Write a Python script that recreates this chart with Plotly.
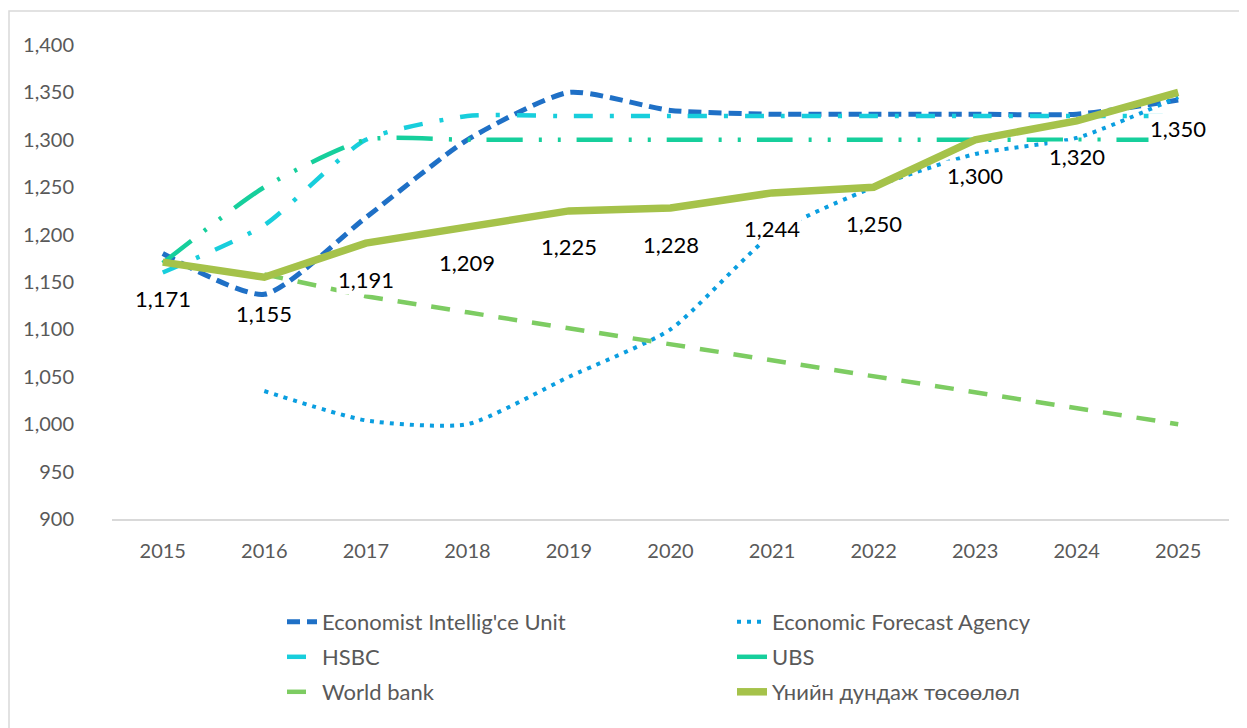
import plotly.graph_objects as go

years = [2015, 2016, 2017, 2018, 2019, 2020, 2021, 2022, 2023, 2024, 2025]
eiu = [1180, 1137, 1218, 1300, 1350, 1331, 1327, 1327, 1327, 1327, 1342]
efa = [None, 1035, 1004, 1000, 1050, 1100, 1200, 1250, 1285, 1302, 1345]
hsbc = [1160, 1210, 1300, 1325, 1325, 1325, 1325, 1325, 1325, 1325, 1325]
ubs = [1170, 1250, 1300, 1300, 1300, 1300, 1300, 1300, 1300, 1300, 1300]
wb = [None, 1158, 1135, 1118, 1101, 1084, 1068, 1051, 1034, 1017, 1000]
avg = [1171, 1155, 1191, 1209, 1225, 1228, 1244, 1250, 1300, 1320, 1350]

names = ["Economist Intellig'ce Unit", "Economic Forecast Agency", "HSBC", "UBS",
         "World bank", "Үнийн дундаж төсөөлөл"]

# page has an 8px body margin; figure coordinates = page coordinates - 8
OFF = 8
W, H = 1239, 720
ml, mr, mt, mb = 104, 18, 37, 209
ph = H - mt - mb
pw = W - ml - mr

fig = go.Figure()

def add(y, name, color, width, dash, shape, legend):
    fig.add_trace(go.Scatter(
        x=years, y=y, name=name, mode="lines",
        line=dict(color=color, width=width, dash=dash, shape=shape, smoothing=0.6),
        connectgaps=False, legend=legend, hoverinfo="skip"))

add(eiu, names[0], "#1f70c6", 5, "13px,7px", "spline", "legend")
add(efa, names[1], "#0a9ee0", 4, "4px,6px", "spline", "legend")
add(hsbc, names[2], "#18cedc", 4.5, "19px,17px,4px,17px", "spline", "legend2")
add(ubs, names[3], "#16cf9c", 4.5, "36px,16px,3px,16px,3px,16px", "spline", "legend2")
add(wb, names[4], "#7dcc62", 4.5, "19px,15px", "linear", "legend3")
add(avg, names[5], "#a5c24a", 7.5, "solid", "linear", "legend3")

for x, v in zip(years, avg):
    fig.add_annotation(x=x, y=v, xref="x", yref="y", text=f"{v:,}", showarrow=False,
                       yshift=-36, bgcolor="white",
                       font=dict(family="Lato, Noto Sans", size=22, color="#000000"))

# outer chart border
fig.add_shape(type="rect", xref="paper", yref="paper",
              x0=(1 - ml) / pw, x1=1.2, y0=-1.0, y1=(H - mb - (10 - OFF + 1)) / ph,
              line=dict(color="#d9d9d9", width=1.5), fillcolor="rgba(0,0,0,0)", layer="below")

legfont = dict(family="Lato, Noto Sans", size=22, color="#595959")
text_start = 322 - OFF
lx = (text_start - 40 - ml) / pw
def legy(py):
    return (H - mb - (py - OFF)) / ph

common = dict(orientation="h", x=lx, xanchor="left", yanchor="middle",
              entrywidth=405, entrywidthmode="pixels", font=legfont,
              bgcolor="rgba(0,0,0,0)")

fig.update_layout(
    width=W, height=H,
    margin=dict(l=ml, r=mr, t=mt, b=mb),
    paper_bgcolor="white", plot_bgcolor="white",
    font=dict(family="Lato, Noto Sans", color="#595959"),
    xaxis=dict(range=[2014.5, 2025.5], tickvals=years, ticktext=[str(y) for y in years],
               showgrid=False, zeroline=False, showline=True, linecolor="#d9d9d9",
               linewidth=1.5, ticks="", ticklabelstandoff=13,
               tickfont=dict(family="Lato, Noto Sans", size=20, color="#595959")),
    yaxis=dict(range=[900, 1400], dtick=50, tickformat=",", showgrid=False,
               zeroline=False, showline=False, ticks="", ticklabelstandoff=37,
               tickfont=dict(family="Lato, Noto Sans", size=20, color="#595959")),
    legend=dict(y=legy(622), **common),
    legend2=dict(y=legy(657), **common),
    legend3=dict(y=legy(692), **common),
)

fig.write_html("out.html")
